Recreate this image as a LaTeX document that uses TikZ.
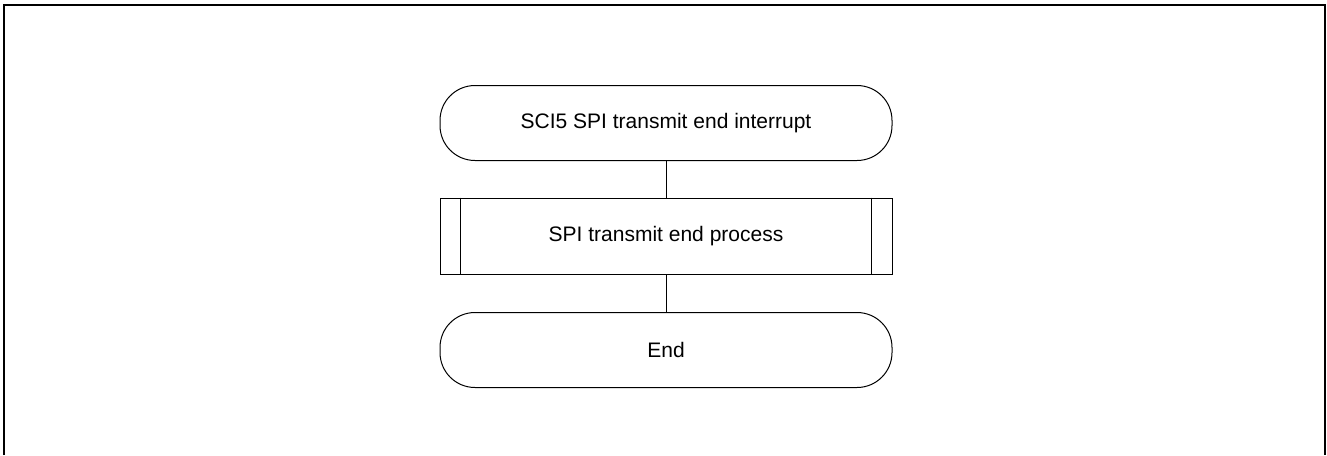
\documentclass[tikz,border=0pt]{standalone}
\usepackage{fontspec}
\setmainfont{Liberation Sans}
\usepackage{tikz}
\usetikzlibrary{calc}

\begin{document}
\begin{tikzpicture}[x=1pt,y=-1pt,
    terminal/.style={draw,line width=1pt,rounded corners=35pt,minimum width=452pt,minimum height=75pt,font=\fontsize{21}{25}\selectfont},
    procbox/.style={draw,line width=1pt,minimum width=452pt,minimum height=76pt,font=\fontsize{21}{25}\selectfont}]
    \useasboundingbox (0,0) rectangle (1327,455);
    \draw[line width=2pt] (3.5,455) -- (3.5,5) -- (1325,5) -- (1325,455);
    \node[terminal] (start) at (666,123) {SCI5 SPI transmit end interrupt};
    \node[procbox] (proc) at (666,236) {SPI transmit end process};
    \draw[line width=1pt] ($(proc.north west)+(21,0)$) -- ($(proc.south west)+(21,0)$);
    \draw[line width=1pt] ($(proc.north east)+(-21,0)$) -- ($(proc.south east)+(-21,0)$);
    \node[terminal] (stop) at (666,350) {End};
    \draw[line width=1pt] (start) -- (proc);
    \draw[line width=1pt] (proc) -- (stop);
   \end{tikzpicture}
\end{document}
